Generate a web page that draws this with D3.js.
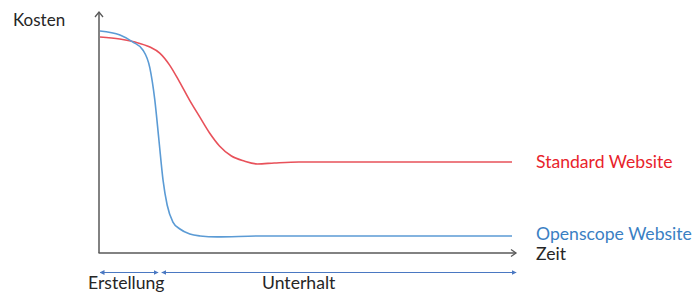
<!DOCTYPE html>
<html><head><meta charset="utf-8">
<script src="https://cdn.jsdelivr.net/npm/d3@7"></script>
<style>html,body{margin:0;padding:0;background:#fff;}svg{display:block;}</style>
</head><body>
<div id="chart"></div>
<script>
// Time axis (0..100, relative) and cost values (0..100, relative)
const standardTime = [0, 4.8, 8.5, 12.1, 14.5, 16.9, 19.3, 21.7, 24.2, 26.6, 29, 31.9, 35, 38.2, 42.3, 48.3, 100];
const standardCost = [90, 89.2, 87.9, 85.8, 83.3, 78.3, 71.3, 63.8, 56.7, 50, 44.6, 40.4, 38.3, 37.1, 37.5, 37.9, 37.9];
const openscopeTime = [0, 4.85, 8, 10.4, 12.1, 13.3, 14.3, 15.3, 16.3, 17.7, 19.4, 21.8, 24.3, 28.4, 38.8, 100];
const openscopeCost = [92.5, 90.8, 87.9, 84.6, 77.1, 63.8, 47.1, 30.4, 20, 12.9, 10, 7.9, 7.1, 6.7, 7.1, 7.1];
const seriesNames = ["Standard Website", "Openscope Website"];
const axisLabels = {y: "Kosten", x: "Zeit"};
const phaseNames = ["Erstellung", "Unterhalt"];
const phaseBounds = [0, 14.1, 15, 101];

const W = 695, H = 299;
const font = "Lato, 'Open Sans', sans-serif";
const svg = d3.select("#chart").append("svg").attr("width", W).attr("height", H);
const x = d3.scaleLinear().domain([0, 100]).range([100, 512]);
const y = d3.scaleLinear().domain([0, 100]).range([253, 13]);

const defs = svg.append("defs");
defs.append("marker").attr("id", "tri").attr("viewBox", "0 0 10 10").attr("refX", 9).attr("refY", 5)
  .attr("markerWidth", 5).attr("markerHeight", 5).attr("orient", "auto-start-reverse").attr("markerUnits", "userSpaceOnUse")
  .append("path").attr("d", "M0,0 L10,5 L0,10 z").attr("fill", "#4a78c2");

// axes
const axCol = "#595959";
svg.append("line").attr("x1", x(0) - 1).attr("x2", x(0) - 1).attr("y1", y(0)).attr("y2", 12).attr("stroke", axCol).attr("stroke-width", 1.5);
svg.append("path").attr("d", `M${x(0)-5},${17} L${x(0)-1},${12} L${x(0)+3},${17}`).attr("fill", "none").attr("stroke", axCol).attr("stroke-width", 1.3);
svg.append("line").attr("x1", x(0) - 1.5).attr("x2", 516).attr("y1", y(0)).attr("y2", y(0)).attr("stroke", axCol).attr("stroke-width", 1.5);
svg.append("path").attr("d", `M511,${y(0)-3.5} L516,${y(0)} L511,${y(0)+3.5}`).attr("fill", "none").attr("stroke", axCol).attr("stroke-width", 1.3);

const line = d3.line().x(d => x(d[0])).y(d => y(d[1])).curve(d3.curveMonotoneX);
const sData = standardTime.map((t, i) => [t, standardCost[i]]);
const oData = openscopeTime.map((t, i) => [t, openscopeCost[i]]);
svg.append("path").attr("d", line(sData)).attr("fill", "none").attr("stroke", "#e8515a").attr("stroke-width", 1.6);
svg.append("path").attr("d", line(oData)).attr("fill", "none").attr("stroke", "#5b9bd5").attr("stroke-width", 1.6);

// labels
const fs = 17.6;
svg.append("text").attr("x", 13).attr("y", 26).text(axisLabels.y).attr("font-family", font).attr("font-size", 17).attr("fill", "#262626");
svg.append("text").attr("x", 536).attr("y", 259.5).text(axisLabels.x).attr("font-family", font).attr("font-size", fs).attr("fill", "#262626");
svg.append("text").attr("x", 536).attr("y", 168).text(seriesNames[0]).attr("font-family", font).attr("font-size", fs).attr("fill", "#e8232b");
svg.append("text").attr("x", 536).attr("y", 240).text(seriesNames[1]).attr("font-family", font).attr("font-size", fs).attr("fill", "#3a80c3");

// phase arrows
const py = 272.5;
[[phaseBounds[0], phaseBounds[1]], [phaseBounds[2], phaseBounds[3]]].forEach(([a, b]) => {
  svg.append("line").attr("x1", x(a)).attr("x2", x(b)).attr("y1", py).attr("y2", py)
    .attr("stroke", "#4a78c2").attr("stroke-width", 1.2)
    .attr("marker-start", "url(#tri)").attr("marker-end", "url(#tri)");
});
svg.append("text").attr("x", 88).attr("y", 289).text(phaseNames[0]).attr("font-family", font).attr("font-size", fs).attr("fill", "#262626");
svg.append("text").attr("x", 262).attr("y", 289).text(phaseNames[1]).attr("font-family", font).attr("font-size", fs).attr("fill", "#262626");
</script>
</body></html>
